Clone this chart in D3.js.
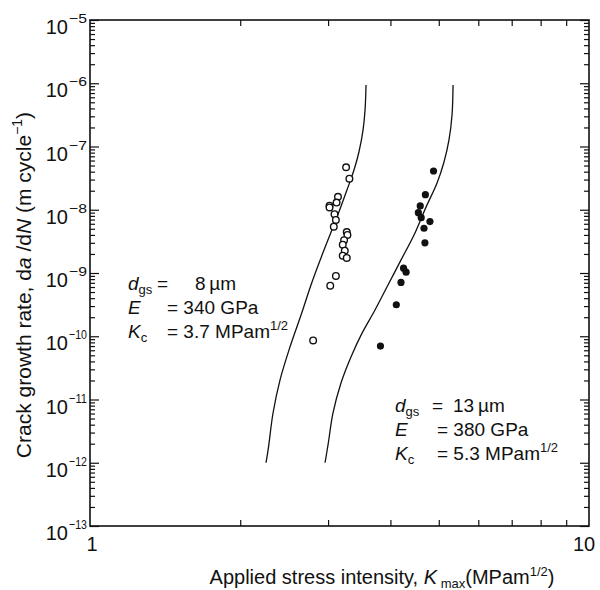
<!DOCTYPE html>
<html><head><meta charset="utf-8">
<script src="https://cdn.jsdelivr.net/npm/d3@7"></script>
<style>
body{margin:0;background:#fff}
text{font-family:"Liberation Sans",Arial,Helvetica,sans-serif;fill:#111}
</style>
</head><body>
<svg id="chart" width="600" height="590"></svg>
<script>
// ---- data ----
const xDomain = [1, 10];
const yDomain = [1e-13, 1e-5];
const xTickLabels = [{v: 1, t: "1"}, {v: 10, t: "10"}];
const yExponents = [-13, -12, -11, -10, -9, -8, -7, -6, -5];
const xMinor = [2, 3, 4, 5, 6, 7, 8, 9];

// open circles: d_gs = 8 um
const openK    = [3.26, 3.31, 3.14, 3.12, 3.02, 3.02, 3.09, 3.11, 3.08, 3.27, 3.28, 3.23, 3.21, 3.24, 3.21, 3.27, 3.11, 3.03, 2.80];
const openRate = [4.7e-8, 3.1e-8, 1.6e-8, 1.3e-8, 1.16e-8, 1.09e-8, 8.5e-9, 6.9e-9, 5.4e-9, 4.45e-9, 4.0e-9, 3.3e-9, 2.8e-9, 2.25e-9, 1.88e-9, 1.73e-9, 9.0e-10, 6.3e-10, 8.6e-11];

// filled circles: d_gs = 13 um
const filledK    = [4.88, 4.70, 4.59, 4.55, 4.61, 4.80, 4.67, 4.69, 4.25, 4.30, 4.20, 4.11, 3.82];
const filledRate = [4.1e-8, 1.73e-8, 1.15e-8, 9.0e-9, 7.5e-9, 6.5e-9, 5.1e-9, 3.0e-9, 1.19e-9, 1.03e-9, 7.1e-10, 3.15e-10, 7.0e-11];

// model curves
const curve8K    = [2.253, 2.279, 2.327, 2.403, 2.516, 2.648, 2.786, 2.944, 3.126, 3.273, 3.381, 3.459, 3.525, 3.558, 3.574];
const curve8Rate = [1.0e-12, 1.77e-12, 6.12e-12, 2.03e-11, 6.76e-11, 2.17e-10, 7.21e-10, 2.31e-9, 7.68e-9, 2.05e-8, 4.25e-8, 8.19e-8, 1.82e-7, 3.78e-7, 9.4e-7];
const curve13K    = [2.958, 2.999, 3.069, 3.184, 3.334, 3.509, 3.725, 3.955, 4.201, 4.460, 4.714, 4.960, 5.122, 5.241, 5.315, 5.340];
const curve13Rate = [1.0e-12, 1.91e-12, 6.12e-12, 1.82e-11, 4.70e-11, 1.12e-10, 2.60e-10, 6.46e-10, 1.61e-9, 3.99e-9, 1.10e-8, 2.65e-8, 5.69e-8, 1.27e-7, 3.15e-7, 9.4e-7];

// ---- layout ----
const svg = d3.select("#chart");
const m = {left: 90, top: 20, right: 11, bottom: 64};
const W = 600 - m.left - m.right, H = 590 - m.top - m.bottom;
const g = svg.append("g").attr("transform", `translate(${m.left},${m.top})`);

const x = d3.scaleLog().domain(xDomain).range([0, W]);
const y = d3.scaleLog().domain(yDomain).range([H, 0]);

const yMinor = [];
for (let e = -13; e < -5; e++) for (let k = 2; k <= 9; k++) yMinor.push(k * Math.pow(10, e));
const yMajor = yExponents.map(e => Math.pow(10, e));

function styleAxis(sel){
  sel.select(".domain").remove();
  sel.selectAll(".tick line").attr("stroke", "#111").attr("stroke-width", 1.2);
  sel.selectAll(".tick text").remove();
}
g.append("g").call(d3.axisLeft(y).tickValues(yMinor).tickSize(-5)).call(styleAxis);
g.append("g").call(d3.axisLeft(y).tickValues(yMajor).tickSize(-9)).call(styleAxis);
g.append("g").attr("transform", `translate(${W},0)`).call(d3.axisRight(y).tickValues(yMinor).tickSize(-5)).call(styleAxis);
g.append("g").attr("transform", `translate(${W},0)`).call(d3.axisRight(y).tickValues(yMajor).tickSize(-9)).call(styleAxis);
g.append("g").call(d3.axisTop(x).tickValues(xMinor).tickSize(-6)).call(styleAxis);
g.append("g").attr("transform", `translate(0,${H})`).call(d3.axisBottom(x).tickValues(xMinor).tickSize(-6)).call(styleAxis);

g.append("rect").attr("x", 0).attr("y", 0).attr("width", W).attr("height", H)
  .attr("fill", "none").attr("stroke", "#111").attr("stroke-width", 1.6);

// y tick labels: "10" + superscript exponent
yExponents.forEach(e => {
  const yy = y(Math.pow(10, e));
  g.append("text").attr("x", -22).attr("y", yy + 14)
    .attr("text-anchor", "end").style("font-size", "20px").text("10");
  g.append("text").attr("x", -21).attr("y", yy + 3)
    .attr("textLength", 18).attr("lengthAdjust", "spacingAndGlyphs")
    .style("font-size", "13px").text("\u2212" + Math.abs(e));
});
// x tick labels
g.append("text").attr("x", x(1) + 2).attr("y", H + 25).attr("text-anchor", "middle")
  .style("font-size", "20px").text(xTickLabels[0].t);
g.append("text").attr("x", x(10) - 5).attr("y", H + 25).attr("text-anchor", "middle")
  .style("font-size", "20px").text(xTickLabels[1].t);

// curves
const line = d3.line().x(d => x(d[0])).y(d => y(d[1])).curve(d3.curveCatmullRom.alpha(0.5));
[[curve8K, curve8Rate], [curve13K, curve13Rate]].forEach(([ks, rs]) => {
  g.append("path").datum(ks.map((k, i) => [k, rs[i]]))
    .attr("d", line).attr("fill", "none").attr("stroke", "#111").attr("stroke-width", 1.3);
});

// points
g.selectAll(".open").data(openK.map((k, i) => [k, openRate[i]])).enter().append("circle")
  .attr("cx", d => x(d[0])).attr("cy", d => y(d[1])).attr("r", 3.3)
  .attr("fill", "#fff").attr("stroke", "#111").attr("stroke-width", 1.4);
g.selectAll(".filled").data(filledK.map((k, i) => [k, filledRate[i]])).enter().append("circle")
  .attr("cx", d => x(d[0])).attr("cy", d => y(d[1])).attr("r", 3.6)
  .attr("fill", "#111");

// annotations
function annot(x0, yb, rows){
  rows.forEach((ln, i) => {
    const yy = yb + i * 24;
    const t = svg.append("text").attr("x", x0).attr("y", yy).style("font-size", "19px");
    t.append("tspan").style("font-style", "italic").text(ln.sym);
    if (ln.sub) t.append("tspan").attr("dy", 4).style("font-size", "13px").text(ln.sub);
    ln.parts.forEach(p => {
      const v = svg.append("text").attr("x", p.x).attr("y", yy).style("font-size", "19px");
      v.append("tspan").text(p.t);
      if (p.sup) v.append("tspan").attr("dy", -8).style("font-size", "13px").text(p.sup);
    });
  });
}
annot(128, 290, [
  {sym: "d", sub: "gs", parts: [{x: 157, t: "="}, {x: 195, t: "8\u2009\u00b5m"}]},
  {sym: "E", parts: [{x: 167, t: "= 340 GPa"}]},
  {sym: "K", sub: "c", parts: [{x: 167, t: "= 3.7 MPam", sup: "1/2"}]}
]);
annot(395, 412, [
  {sym: "d", sub: "gs", parts: [{x: 432, t: "="}, {x: 453, t: "13\u2009\u00b5m"}]},
  {sym: "E", parts: [{x: 437, t: "= 380 GPa"}]},
  {sym: "K", sub: "c", parts: [{x: 437, t: "= 5.3 MPam", sup: "1/2"}]}
]);

// axis titles
const xt = svg.append("text").attr("x", 382).attr("y", 584).attr("text-anchor", "middle").style("font-size", "20px");
xt.append("tspan").text("Applied stress intensity, ");
xt.append("tspan").style("font-style", "italic").text("K");
xt.append("tspan").attr("dy", 4).style("font-size", "13px").text(" max");
xt.append("tspan").attr("dy", -4).text("(MPam");
xt.append("tspan").attr("dy", -8).style("font-size", "13px").text("1/2");
xt.append("tspan").attr("dy", 8).text(")");

const yt = svg.append("text").attr("transform", "translate(31,285) rotate(-90)")
  .attr("text-anchor", "middle").style("font-size", "21px");
yt.append("tspan").text("Crack growth rate, d");
yt.append("tspan").style("font-style", "italic").text("a");
yt.append("tspan").text(" /d");
yt.append("tspan").style("font-style", "italic").text("N");
yt.append("tspan").text(" (m cycle");
yt.append("tspan").attr("dy", -9).style("font-size", "14px").text("\u22121");
yt.append("tspan").attr("dy", 9).text(")");
</script>
</body></html>
